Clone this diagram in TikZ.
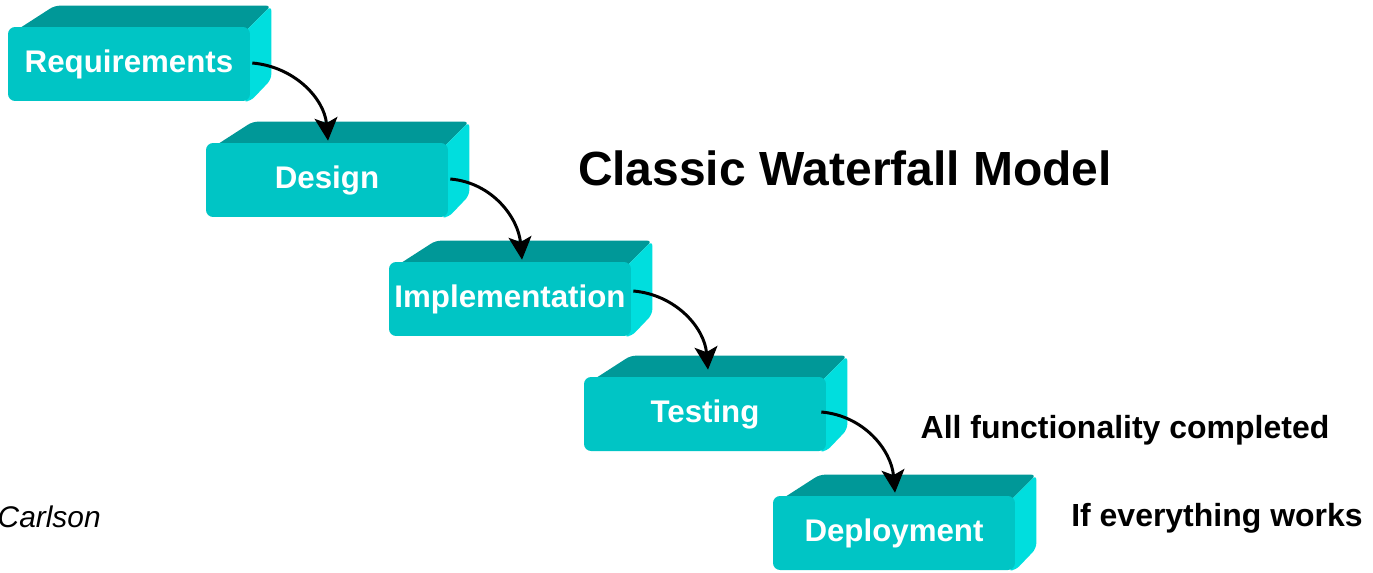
\documentclass[tikz,border=0pt]{standalone}
\usepackage{fontspec}
\setmainfont{Liberation Sans}
\usetikzlibrary{arrows.meta,backgrounds}

\definecolor{frontcyan}{RGB}{0,197,197}
\definecolor{topcyan}{RGB}{0,152,152}
\definecolor{sidecyan}{RGB}{0,222,222}

\begin{document}
\begin{tikzpicture}[x=0.02cm, y=-0.02cm,
    stage/.style={rectangle, rounded corners=4pt, fill=frontcyan, text=white,
      minimum width=4.84cm, minimum height=1.48cm, inner sep=0pt,
      font=\bfseries\fontsize{17.8}{20}\selectfont},
    flow/.style={-{Stealth[length=13pt,width=13pt,inset=3pt]}, line width=1.7pt},
    note/.style={font=\bfseries\fontsize{18.2}{22}\selectfont}]
  \useasboundingbox (0,0) rectangle (1373,572);
  % the five stages, front face plus top and side
  \foreach \n/\p/\t in {req/{129,64}/Requirements, des/{327,180}/Design,
      imp/{510,299}/Implementation, tst/{705,414}/Testing, dep/{894,533}/Deployment} {
    \node[stage] (\n) at (\p) {\t};
    \begin{pgfonlayer}{background}
      \fill[topcyan, rounded corners=3pt] ([shift={(2,8)}]\n.north west)
        -- ([shift={(47,-21)}]\n.north west) -- ([shift={(21,-21)}]\n.north east)
        -- ([shift={(-8,8)}]\n.north east) -- cycle;
      \fill[sidecyan, rounded corners=3pt] ([shift={(-8,8)}]\n.north east)
        -- (\n.north east) -- ([shift={(21,-21)}]\n.north east)
        -- ([shift={(21,-22)}]\n.south east) -- (\n.south east)
        -- ([shift={(-8,0)}]\n.south east) -- cycle;
    \end{pgfonlayer}
  }
  % flow between stages
  \draw[flow] ([shift={(2,-1)}]req.east) to[out=-5, in=95] ([shift={(1,-2)}]des.north);
  \draw[flow] ([shift={(2,-1)}]des.east) to[out=-5, in=95] ([shift={(12,-2)}]imp.north);
  \draw[flow] ([shift={(2,-8)}]imp.east) to[out=-5, in=95] ([shift={(3,-7)}]tst.north);
  \draw[flow] ([shift={(-5,-2)}]tst.east) to[out=-5, in=95] ([shift={(1,-3)}]dep.north);
  % titles and notes
  \node[font=\bfseries\fontsize{27.3}{32}\selectfont] (title) at (845,168) {Classic Waterfall Model};
  \node[note] (done) at (1125,430) {All functionality completed};
  \node[note] (works) at (1217,518) {If everything works};
  \node[anchor=east, inner sep=0pt, font=\itshape\fontsize{17}{20}\selectfont] (who) at (101,517) {Carlson};
\end{tikzpicture}
\end{document}
